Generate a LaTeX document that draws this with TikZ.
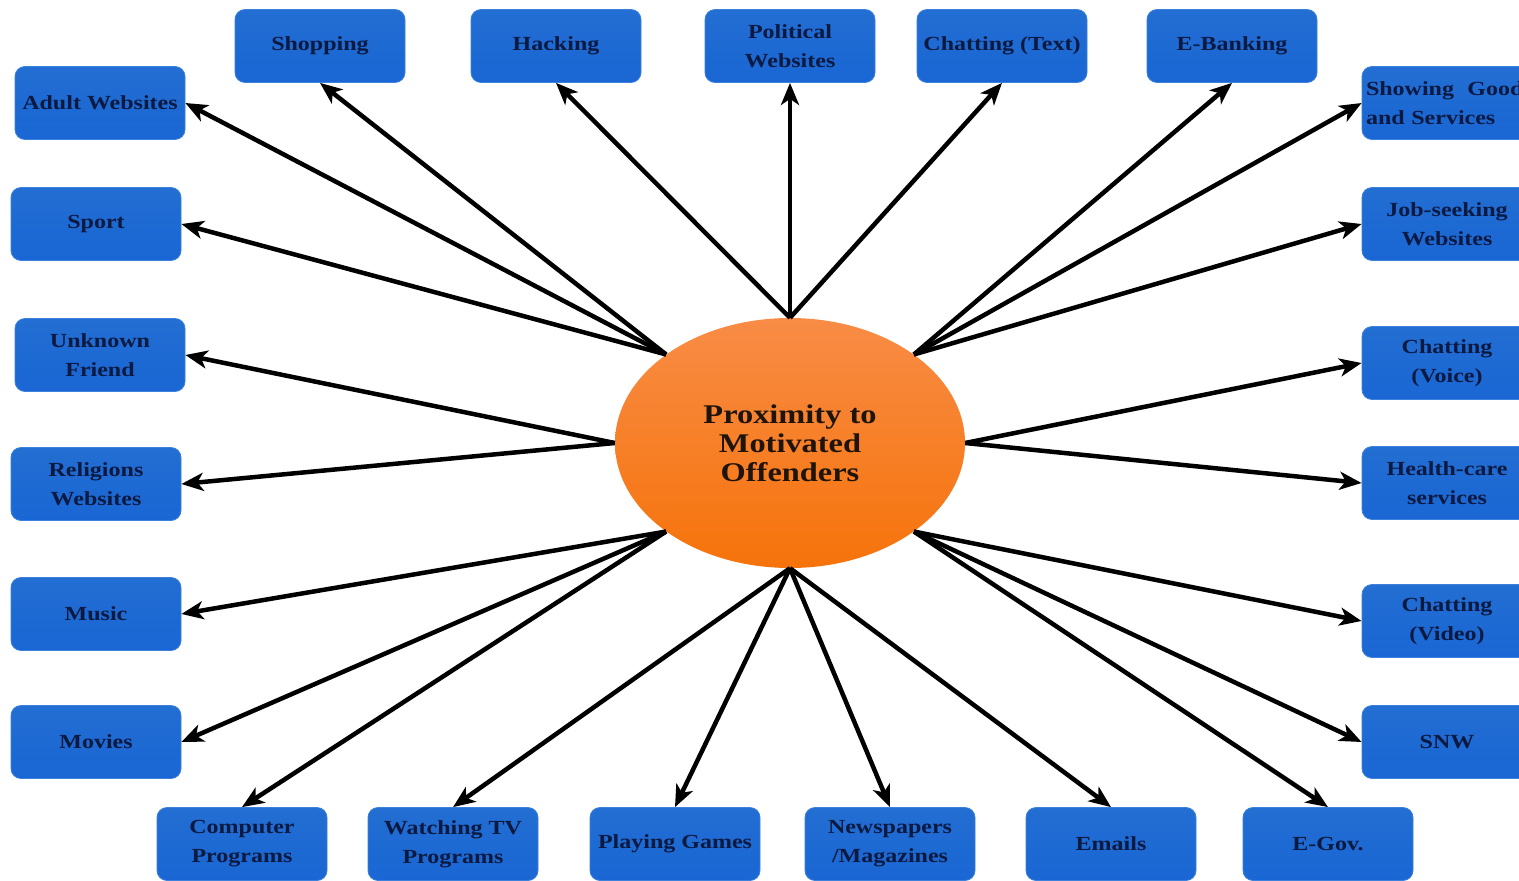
\documentclass[tikz,border=0pt]{standalone}
\usepackage{fontspec}
\setmainfont{Liberation Serif}[FakeStretch=1.2]
\usetikzlibrary{arrows.meta,shapes.geometric}
\definecolor{boxtop}{RGB}{34,110,210}
\definecolor{boxbot}{RGB}{26,102,212}
\definecolor{boxedge}{RGB}{60,130,220}
\definecolor{boxtext}{RGB}{12,25,65}
\definecolor{ovtop}{RGB}{248,140,70}
\definecolor{ovbot}{RGB}{246,115,10}
\definecolor{ctext}{RGB}{30,20,10}
\tikzset{
  topic/.style={draw=boxedge, line width=0.8pt, rounded corners=10pt,
    top color=boxtop, bottom color=boxbot,
    minimum width=170pt, minimum height=73pt, inner sep=4pt,
    align=center, text=boxtext,
    font=\bfseries\fontsize{20}{29}\selectfont},
  hub/.style={ellipse, minimum width=350pt, minimum height=250pt, inner sep=0pt,
    top color=ovtop, bottom color=ovbot, align=center, text=ctext,
    font=\bfseries\fontsize{27}{29}\selectfont},
  link/.style={line width=4.5pt, -{Stealth[length=22pt,width=18pt,inset=6pt]}}
}
\begin{document}
\begin{tikzpicture}[x=1pt,y=-1pt]
\useasboundingbox (0,0) rectangle (1519,881);
\clip (0,0) rectangle (1519,881);
\fill[white] (0,0) rectangle (1519,881);
% centre
\node[hub] (c) at (790,443) {Proximity to\\Motivated\\Offenders};
% top row
\node[topic] (shop)  at (320,46)  {Shopping};
\node[topic] (hack)  at (556,46)  {Hacking};
\node[topic] (pol)   at (790,46)  {Political\\Websites};
\node[topic] (chtx)  at (1002,46) {Chatting (Text)};
\node[topic] (ebank) at (1232,46) {E-Banking};
% left column
\node[topic] (adult)  at (100,103) {Adult Websites};
\node[topic] (sport)  at (96,224)  {Sport};
\node[topic] (unk)    at (100,355) {Unknown\\Friend};
\node[topic] (rel)    at (96,484)  {Religions\\Websites};
\node[topic] (music)  at (96,614)  {Music};
\node[topic] (movies) at (96,742)  {Movies};
% bottom row
\node[topic] (comp)   at (242,844)  {Computer\\Programs};
\node[topic] (tv)     at (453,844)  {Watching TV\\Programs};
\node[topic] (play)   at (675,844)  {Playing Games};
\node[topic] (news)   at (890,844)  {Newspapers\\/Magazines};
\node[topic] (emails) at (1111,844) {Emails};
\node[topic] (egov)   at (1328,844) {E-Gov.};
% right column
\node[topic, align=left, text width=162pt] (goods) at (1447,103) {\mbox{Showing\ \ Goods}\\and Services};
\node[topic] (job)    at (1447,224) {Job-seeking\\Websites};
\node[topic] (chv)    at (1447,363) {Chatting\\(Voice)};
\node[topic] (health) at (1447,483) {Health-care\\services};
\node[topic] (chvid)  at (1447,621) {Chatting\\(Video)};
\node[topic] (snw)    at (1447,742) {SNW};
% connectors
\draw[link] (c.north) -- (pol.south);
\draw[link] (c.north) -- (hack.south);
\draw[link] (c.north) -- (chtx.south);
\draw[link] (c.north west) -- (shop.south);
\draw[link] (c.north west) -- (adult.east);
\draw[link] (c.north west) -- (sport.east);
\draw[link] (c.west) -- (unk.east);
\draw[link] (c.west) -- (rel.east);
\draw[link] (c.south west) -- (music.east);
\draw[link] (c.south west) -- (movies.east);
\draw[link] (c.south west) -- (comp.north);
\draw[link] (c.south) -- (tv.north);
\draw[link] (c.south) -- (play.north);
\draw[link] (c.south) -- (news.north);
\draw[link] (c.south) -- (emails.north);
\draw[link] (c.south east) -- (egov.north);
\draw[link] (c.south east) -- (chvid.west);
\draw[link] (c.south east) -- (snw.west);
\draw[link] (c.east) -- (chv.west);
\draw[link] (c.east) -- (health.west);
\draw[link] (c.north east) -- (ebank.south);
\draw[link] (c.north east) -- (goods.west);
\draw[link] (c.north east) -- (job.west);
\end{tikzpicture}
\end{document}
